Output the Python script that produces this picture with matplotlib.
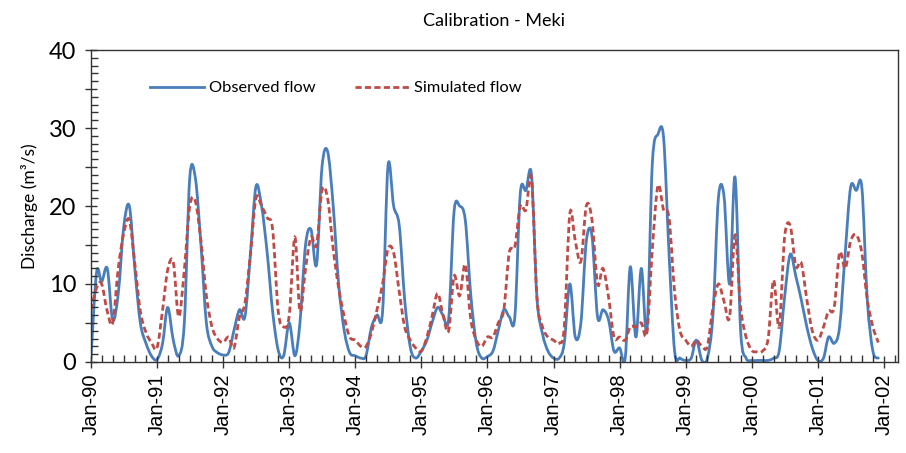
import numpy as np
import pandas as pd
import matplotlib
matplotlib.use("Agg")
import matplotlib.pyplot as plt
import matplotlib.dates as mdates
from matplotlib.path import Path
from matplotlib.patches import PathPatch
from matplotlib.lines import Line2D
from matplotlib.ticker import MultipleLocator

# monthly discharge (m3/s), Jan-1990 .. Dec-2001
observed = [
    0.5, 11.5, 10.3, 12, 5.4, 8.8, 17.3, 20, 11.8, 5, 2.4, 0.8,        # 1990
    0.3, 2.4, 7, 2.8, 0.8, 5, 23.6, 23.6, 15, 5, 2, 1.2,               # 1991
    0.9, 1.2, 4, 6.7, 5.8, 14, 22.5, 20, 14, 6.5, 1.5, 0.8,            # 1992
    5, 0.8, 5, 15, 17, 12.5, 25, 27, 20, 10, 4, 1.2,                   # 1993
    0.8, 0.5, 0.8, 4.5, 6, 6.5, 25.2, 20, 17.5, 8, 1.9, 0.5,           # 1994
    1.4, 2.8, 5, 7, 6, 5.5, 19.3, 20.0, 18.2, 8.7, 2.4, 0.5,           # 1995
    0.7, 1.4, 4, 6.7, 5.8, 5.8, 21.6, 22.0, 24.0, 8.3, 3.6, 1.4,       # 1996
    0.5, 0.5, 2.4, 10, 3.2, 5, 15.5, 16.2, 5.8, 6.7, 5.4, 1.4,         # 1997
    1.8, 0.5, 12.2, 3.2, 12, 4, 25.5, 29.2, 28.8, 14, 1.4, 0.5,        # 1998
    0.2, 0.5, 2.8, 0.2, 0.5, 6, 21, 21.3, 10, 23.7, 4, 0.5,            # 1999
    0.2, 0.2, 0.2, 0.2, 0.5, 1.4, 8.3, 13.8, 11, 8, 4.5, 1.8,          # 2000
    0.2, 0.5, 3.2, 2.4, 4.5, 14, 22.4, 22.0, 22.4, 8, 1.4, 0.5,        # 2001
]
simulated = [
    6.7, 9.5, 10, 6.5, 5, 12, 16.5, 18.2, 12.5, 6.5, 3.8, 2.5,
    1.8, 6.7, 11.8, 12.8, 5.8, 11.8, 20, 20.6, 15.5, 8.5, 4.5, 3,
    2.5, 3.2, 1.8, 5.8, 7.5, 14, 21, 20, 18.5, 17, 6.5, 4.5,
    6, 16, 6.5, 12, 16, 15, 22, 21, 14.5, 9.5, 5.8, 3.2,
    2.8, 2, 2, 3.8, 6.7, 10, 14.5, 14, 9, 4.5, 2.8, 1.8,
    1.4, 3.2, 5.8, 8.8, 6, 4, 11, 8.5, 12.5, 5.5, 2.8, 2,
    3.2, 3.2, 5, 6.7, 14, 14.8, 20, 19.5, 23.5, 8.3, 4.5, 3.2,
    2.8, 2.4, 4.5, 19, 15.5, 12.9, 20, 18.3, 10, 12, 8.3, 3.2,
    3.2, 2.8, 4.5, 4.5, 5, 3.8, 14.5, 22.6, 19.5, 18.5, 9, 4,
    2.8, 2, 2.8, 2, 2, 7, 10, 7.8, 5.8, 16.3, 7, 3.2,
    1.5, 1.3, 1.4, 3, 10.5, 4.5, 16, 17.5, 12.3, 12.7, 8, 4,
    2.8, 4.5, 6.5, 7, 14, 12, 15.5, 16.3, 14, 8, 4.5, 2.5,
]
months = pd.date_range("1990-01-01", periods=len(observed), freq="MS")

blue = "#4A7EBB"
red = "#BE4B48"
txt_font = ["Lato", "DejaVu Sans"]
tick_font = ["Liberation Sans", "DejaVu Sans"]


def smooth_path(x, y):
    # Excel-style smoothed line: cubic Bezier through every data point
    x = np.asarray(x, float)
    y = np.asarray(y, float)
    px = np.concatenate([[x[0]], x, [x[-1]]])
    py = np.concatenate([[y[0]], y, [y[-1]]])
    verts = [(x[0], y[0])]
    codes = [Path.MOVETO]
    for i in range(1, len(px) - 2):
        c1 = (px[i] + (px[i + 1] - px[i - 1]) / 6, py[i] + (py[i + 1] - py[i - 1]) / 6)
        c2 = (px[i + 1] - (px[i + 2] - px[i]) / 6, py[i + 1] - (py[i + 2] - py[i]) / 6)
        verts += [c1, c2, (px[i + 1], py[i + 1])]
        codes += [Path.CURVE4] * 3
    return Path(verts, codes)


fig = plt.figure(figsize=(9.06, 4.53), dpi=100)
ax = fig.add_axes([0.1004, 0.2009, 0.8908, 0.6887])

xnum = mdates.date2num(months)
ax.add_patch(PathPatch(smooth_path(xnum, observed), fill=False, edgecolor=blue,
                       lw=2.0, joinstyle="round", capstyle="round"))
ax.add_patch(PathPatch(smooth_path(xnum, simulated), fill=False, edgecolor=red,
                       lw=2.0, linestyle=(0, (2.2, 1.2))))

ax.xaxis_date()
ax.set_xlim(pd.Timestamp("1990-01-01"), pd.Timestamp("2002-03-20"))
ax.set_ylim(0, 40)

ax.xaxis.set_major_locator(mdates.YearLocator())
ax.xaxis.set_major_formatter(mdates.DateFormatter("%b-%y"))
ax.xaxis.set_minor_locator(mdates.MonthLocator(bymonth=[3, 5, 7, 9, 11]))
ax.yaxis.set_minor_locator(MultipleLocator(1))
ax.set_yticks(np.arange(0, 41, 5))
ax.set_yticklabels([str(v) if v % 10 == 0 else "" for v in range(0, 41, 5)])

ax.tick_params(axis="both", which="major", direction="inout", length=9,
               width=1.0, color="#333333")
ax.tick_params(axis="both", which="minor", direction="in", length=5,
               width=1.0, color="#333333")
ax.tick_params(axis="y", which="major", labelsize=17, pad=6)
ax.tick_params(axis="x", which="major", labelsize=14.5, pad=4)
plt.setp(ax.get_xticklabels(), rotation=90, family=tick_font)
plt.setp(ax.get_yticklabels(), family=txt_font)

for s in ax.spines.values():
    s.set_color("#333333")
    s.set_linewidth(1.0)

ax.set_ylabel("Discharge (m³/s)", fontsize=12.5, family=txt_font, labelpad=8)
ax.set_title("Calibration - Meki", fontsize=13, family=txt_font, pad=17)

handles = [Line2D([], [], color=blue, lw=2.0),
           Line2D([], [], color=red, lw=2.0, linestyle=(0, (2.2, 1.2)))]
ax.legend(handles, ["Observed flow", "Simulated flow"],
          loc="center left", bbox_to_anchor=(0.055, 0.878), ncol=2,
          frameon=False, handlelength=3.3, handletextpad=0.3,
          columnspacing=2.4, prop={"family": txt_font, "size": 11.8})

fig.savefig("out.png", dpi=100)
